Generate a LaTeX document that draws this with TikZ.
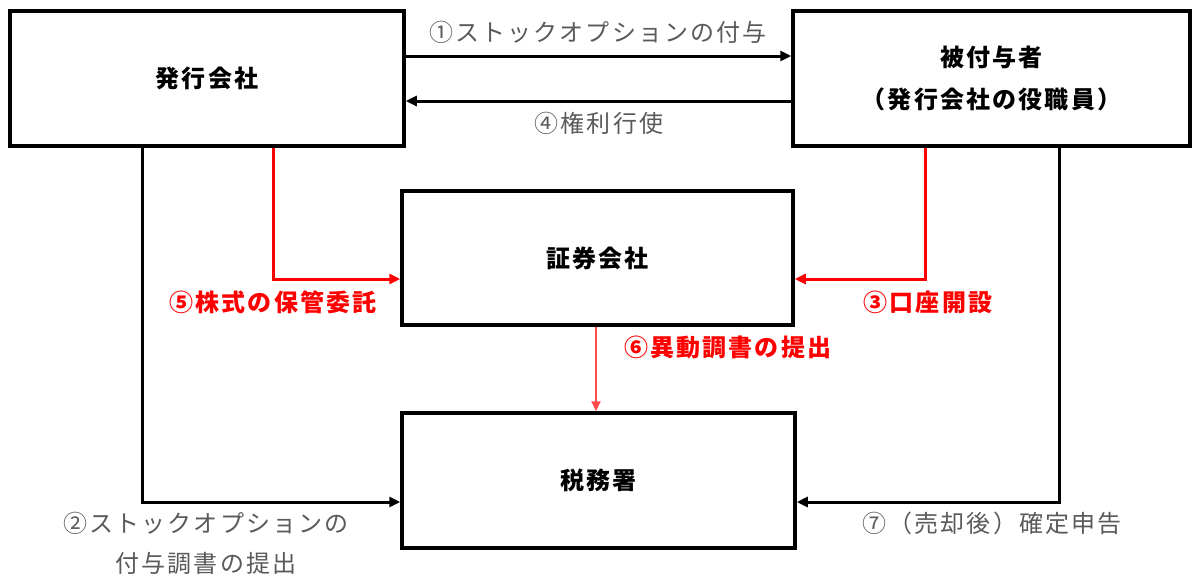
\documentclass[tikz,border=0pt]{standalone}
\usepackage{fontspec}
\newfontfamily\jp{Noto Sans CJK JP}[LetterSpace=9]
\usetikzlibrary{arrows.meta}
\definecolor{lblgray}{HTML}{5A5A5A}
\definecolor{arrred}{HTML}{FF0000}
\definecolor{lightred}{HTML}{FF4A4A}
\tikzset{
  box/.style={draw=black, line width=3.5pt, fill=white, inner sep=0pt, align=center,
    font=\jp\fontsize{24}{42}\selectfont\bfseries},
  blkarrow/.style={draw=black, line width=3pt, -{Triangle[length=11pt,width=10pt]}},
  redarrow/.style={draw=arrred, line width=3pt, -{Triangle[length=11pt,width=10pt]}},
  thinred/.style={draw=lightred, line width=2pt, -{Triangle[length=10pt,width=9pt]}},
  graylbl/.style={text=lblgray, inner sep=0pt, align=center, font=\jp\fontsize{24}{40}\selectfont},
  redlbl/.style={text=arrred, inner sep=0pt, font=\jp\fontsize{24}{40}\selectfont\bfseries},
}
\begin{document}
\begin{tikzpicture}[x=1pt, y=-1pt]
\useasboundingbox (0,0) rectangle (1200,587);
\fill[white] (0,0) rectangle (1200,587);
% boxes
\node[box, minimum width=394pt, minimum height=135pt] (A) at (207,78.5) {発行会社};
\node[box, minimum width=397pt, minimum height=135pt] (B) at (991.5,78.5) {被付与者\\（発行会社の役職員）};
\node[box, minimum width=391pt, minimum height=134pt] (C) at (597.5,258) {証券会社};
\node[box, minimum width=393pt, minimum height=135pt] (D) at (598.5,480.5) {税務署};
% helper coordinates
\coordinate (y1) at (0,56);
\coordinate (y4) at (0,101);
\coordinate (yr) at (0,279);
\coordinate (yb) at (0,502);
\coordinate (xa) at (142,0);
\coordinate (xr5) at (273,0);
\coordinate (xr3) at (925,0);
\coordinate (xb) at (1059,0);
\coordinate (x6) at (596,0);
% connectors
\draw[blkarrow] (A.east |- y1) -- (B.west |- y1);
\draw[blkarrow] (B.west |- y4) -- (A.east |- y4);
\draw[blkarrow] (A.south -| xa) |- (D.west |- yb);
\draw[blkarrow] (B.south -| xb) |- (D.east |- yb);
\draw[redarrow] (A.south -| xr5) |- (C.west |- yr);
\draw[redarrow] (B.south -| xr3) |- (C.east |- yr);
\draw[thinred] (C.south -| x6) -- (D.north -| x6);
% labels
\node[graylbl] (L1) at (598,32) {①ストックオプションの付与};
\node[graylbl] (L4) at (599,123) {④権利行使};
\node[redlbl] (L5) at (273,302) {⑤株式の保管委託};
\node[redlbl] (L3) at (928,302) {③口座開設};
\node[redlbl, anchor=west] (L6) at (624,347) {⑥異動調書の提出};
\node[graylbl] (L7) at (992,523) {⑦（売却後）確定申告};
\node[graylbl] (L2) at (206,543) {②ストックオプションの\\付与調書の提出};
\end{tikzpicture}
\end{document}
